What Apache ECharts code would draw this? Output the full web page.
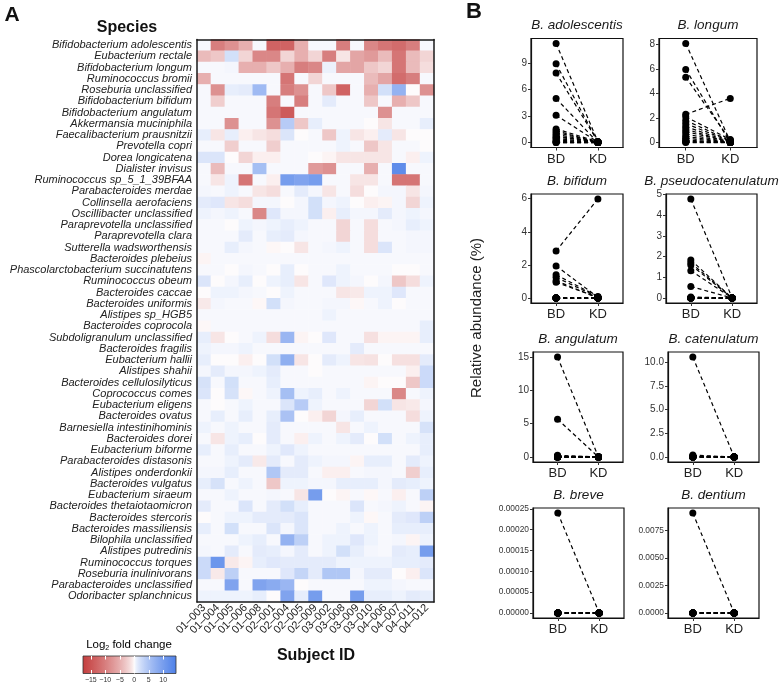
<!DOCTYPE html>
<html>
<head>
<meta charset="utf-8">
<script src="https://cdn.jsdelivr.net/npm/echarts@6/dist/echarts.min.js"></script>
<style>
html,body{margin:0;padding:0;background:#fff}
#main{width:780px;height:686px}
</style>
</head>
<body>
<div id="main"></div>
<script>
var species = [
  'Bifidobacterium adolescentis','Eubacterium rectale','Bifidobacterium longum','Ruminococcus bromii',
  'Roseburia unclassified','Bifidobacterium bifidum','Bifidobacterium angulatum','Akkermansia muciniphila',
  'Faecalibacterium prausnitzii','Prevotella copri','Dorea longicatena','Dialister invisus',
  'Ruminococcus sp_5_1_39BFAA','Parabacteroides merdae','Collinsella aerofaciens','Oscillibacter unclassified',
  'Paraprevotella unclassified','Paraprevotella clara','Sutterella wadsworthensis','Bacteroides plebeius',
  'Phascolarctobacterium succinatutens','Ruminococcus obeum','Bacteroides caccae','Bacteroides uniformis',
  'Alistipes sp_HGB5','Bacteroides coprocola','Subdoligranulum unclassified','Bacteroides fragilis',
  'Eubacterium hallii','Alistipes shahii','Bacteroides cellulosilyticus','Coprococcus comes',
  'Eubacterium eligens','Bacteroides ovatus','Barnesiella intestinihominis','Bacteroides dorei',
  'Eubacterium biforme','Parabacteroides distasonis','Alistipes onderdonkii','Bacteroides vulgatus',
  'Eubacterium siraeum','Bacteroides thetaiotaomicron','Bacteroides stercoris','Bacteroides massiliensis',
  'Bilophila unclassified','Alistipes putredinis','Ruminococcus torques','Roseburia inulinivorans',
  'Parabacteroides unclassified','Odoribacter splanchnicus'
];
var subjects = ['01–003','01–004','01–005','01–006','01–008','02–001','02–004','02–005','02–009',
  '03–002','03–008','03–009','03–010','04–006','04–007','04–011','04–012'];

// one row per species, one column per subject
var log2FC = [
  [0.2,-10,-8,-5,0.2,-13,-13,-5,0.2,0.2,-10,0.2,-9,-11,-12,-10,0.2],
  [-4,-3,2,-2,-9,-9,-2,-5,-2,-10,-1,-6,-7,-4,-11,-4,-2],
  [0.2,0.2,0.3,-5,-5,-3,-5,-10,-9,0.6,-6,-6,-3,-2,-11,-4,-1.5],
  [-5,0.2,0.2,0.2,0.2,0.2,-11,0.2,-2,0.2,0.2,0.2,-4,-6,-12,-10,0.2],
  [0.2,-8,0.8,1,6,0.2,-10,-8,0.2,-3,-13,0.2,-5,2,7,0,-8],
  [0.2,-2.5,0.2,0.2,0.2,-10,0.2,-10,0.2,1,0.2,0.2,-3,0.2,-5,-3,0.2],
  [0.2,0.2,0.2,0.2,0.2,-11,-14,0.2,0.2,0.2,0.2,0.2,0.2,-8,0.2,0.2,0.2],
  [0.2,0.2,-8,0.2,0.2,-8,4,-3,0.8,0.2,0.2,0.2,0,-1,0.2,0.2,0.8],
  [0.8,-1,0.8,-0.5,-1,-1.5,1.5,0,0.2,-3,0.5,-1,-0.5,1,-1,0,0],
  [0.2,0.2,-2.5,0.2,0.2,-2.5,0.2,0.2,0.2,0.2,0.5,0.2,-3,-1,0.2,0.2,0],
  [1.5,1.5,0,-2,-0.5,-0.5,0.2,0.2,0,-0.3,-1,-1,-1,-1,0.2,-0.5,0.5],
  [0.2,-4,0.2,0.2,5.5,0.2,0.2,0.2,-7,-8,0.2,0.2,-5,0.2,12.5,0.2,0.2],
  [0.2,-1,0.5,-11,0.2,-0.5,10,9,10,0.2,0.2,-1,-1,0.2,-11,-11,0.2],
  [0.3,0.2,0.5,0.2,-1,-1.5,0.2,1,0.3,-1,0.2,-1.5,0,0.3,0.3,-1,0.3],
  [1,1.3,-1,-1.5,0.3,0.3,0,0.3,2,0.3,0.5,0,-0.5,-0.3,0.3,-2,0.5],
  [0.5,0.3,0.5,0.2,-9,1.3,0.3,0.3,2,-0.5,0.8,0.3,0.3,1,0.3,0.5,0.3],
  [0.2,0.2,0,0.5,0.3,0.5,0.8,0.5,0.2,0.2,-2,0.2,-1.5,0.2,0.3,0.8,0.5],
  [0.2,0.2,0.2,1,0.2,0.8,1,0.3,0.2,0.2,-2,0.2,-1.5,0.2,0.2,0.3,0.3],
  [0.2,0.2,0.8,0.3,0.2,-0.2,0,-1,0.2,0.3,0.5,0.2,-1.5,1.5,0.2,0.3,0.3],
  [-0.3,0.2,0.2,0.2,0.2,0.2,0.2,0.2,0.2,0.2,0.2,0.2,0.2,0.2,0.2,0.2,0.2],
  [0.2,0.2,0,0.3,0.2,0,0.8,0,0.2,0.2,0.5,0.2,0.2,0.2,0,0,0.2],
  [1.5,0,0.3,0.8,0,0.5,0.8,-1,0.2,1.3,0.5,0.3,0,0.3,-3,-1.5,0.5],
  [0,0.5,0.5,0.3,0.2,0,0.5,0.2,0.2,0.2,-1,-0.8,0.5,0.5,1.3,0.2,0.2],
  [-0.8,0.3,0.2,0.2,-0.2,2,0.3,0.2,0.2,0.3,0.3,-0.2,0.2,0.5,0,0.2,0.2],
  [0.2,0.2,0.2,0.2,0.2,0.2,0.2,0.2,0.2,0.5,0.2,0.2,0.2,0.2,0.2,0.2,0.2],
  [-0.2,0.2,0.2,0.2,0.2,0.2,0.2,0.2,0.2,0.2,0.2,0.2,0.2,0.2,0.2,0.2,0.8],
  [0.8,-1,0,0.2,0.5,-1.5,6.5,-0.3,0,1.3,0.2,0.2,-1.3,-0.3,-0.3,-0.3,0.8],
  [0.5,0.3,0.3,0.5,0.2,0.2,0.2,0.2,0.2,0.2,0.2,1,0.2,0.2,0.2,0.2,0.2],
  [0.8,0,0,-0.5,0,2,7.5,-1,0,1,0.5,-1,-1.2,0,-1.3,-1.3,1],
  [0.3,1,0.3,0.3,0.5,1,0.2,0.2,0,0.2,0.2,0.2,0.2,0.2,0.2,-0.5,2.5],
  [1.8,0.2,2,0.2,0.2,0.8,0.2,0.2,0.2,0.2,0.2,0.2,-0.3,0,0,-3,2.5],
  [1.5,0,1.8,-0.2,0.2,0.5,5.5,0.5,0.8,0.2,0.5,0.2,0.2,0.2,-9,0.2,0.5],
  [0.2,0,0.2,0.5,0.2,0.2,1.5,4,0.5,0.2,0.2,0.2,-2,2,-1,-0.8,0.3],
  [0.2,0.8,0.2,0.8,0.2,0.8,5,0,-0.5,-2,0.3,0.8,0.2,0.2,0.2,-1.5,0.5],
  [0.5,0.2,0.5,0.2,0.2,1,0.2,0.2,0.2,0.2,-1,0.2,0.5,0.2,0.2,0.2,1.8],
  [0.2,-1,0.5,0.8,0,1,0.2,-0.5,0.5,0.2,0.5,1,0,2,0.2,0.5,0.8],
  [0.8,0.2,0.8,0.2,0.2,0.5,1.2,0.5,0.2,0.2,0.2,0.2,0.2,0.2,0.2,0.2,0.8],
  [0.2,0.2,0.5,1,-0.8,1,0.2,1,0.5,0.3,0.3,-0.3,0.8,0.8,0.2,1,0.5],
  [0.3,0.3,0.8,0.2,0.2,4.5,1,1,0.2,-0.5,-0.5,0.2,0.3,0.3,0.2,-2.5,0.8],
  [0.8,1.8,0.2,0.5,0.2,-3,0.5,0.5,0.3,0.3,0.8,0.8,0.8,0.3,1,0.8,0.5],
  [0.2,0.2,0.5,0.2,0.2,0.3,0.2,-1,10,0,-0.3,0.2,-0.2,0.2,-0.5,0.2,3.5],
  [1,0.2,0.2,1.5,0.2,1,2,0.8,0.2,0.2,0.2,1.5,0.2,0.3,0.5,0.2,-0.3],
  [0,0.2,0.5,0.5,1,1,1,1.5,0.2,0.2,0.2,0.5,-0.2,0.2,1,1.3,3.5],
  [0.8,0.2,2,0.2,0.2,1.5,0.3,1.5,0.2,0.2,0.5,0.2,0.5,0.2,0.8,0.8,0.8],
  [0.2,0.2,0.2,0.5,0.8,0.2,7,3.5,0.2,0.5,0.5,1.3,0.5,0.2,0.3,-0.3,0.5],
  [0.3,0.2,1,0.2,1,0.8,0.3,1,0.2,0.5,2,0.8,0.3,0.2,1,0.8,10],
  [2.5,11,-0.8,-0.3,0.8,1.2,1,1,1,1,0.5,0.5,0.5,0.5,0.8,0.8,1],
  [2.5,-0.8,3.5,0.2,0.2,0.2,1.3,3,1,4.5,4.5,0.3,1,1,0,-0.5,1.5],
  [0.2,0.2,9,0.2,9,8,6.5,0,0.2,0.2,0.2,0.2,0.5,0.5,0.3,0.2,0.2],
  [0.5,0.5,0.5,0.5,0.8,0,9,0.8,10,0.2,0.2,10,0.8,0.8,0.5,1,0.8]
];
var fcMin = -17.7, fcMax = 14.4;
var colorbarTicks = [-15, -10, -5, 0, 5, 10];

// relative abundance (%) per subject, baseline diet (BD) and ketogenic diet (KD)
var adolescentisBD = [11.26,8.95,7.9,5.0,3.1,1.55,1.35,1.15,0.95,0.75,0.6,0.45,0.3,0.15,0.05,0,0];
var adolescentisKD = [0.1,0.05,0.1,0,0.05,0.1,0,0.05,0,0,0.1,0,0,0,0,0,0];
var longumBD = [8.08,5.96,5.33,2.3,2.1,1.8,1.55,1.3,1.1,0.9,0.7,0.5,0.35,0.2,0.1,0.05,0];
var longumKD = [0.1,0,0.2,3.6,0.25,0.15,0.1,0.05,0,0.05,0,0,0,0,0,0,0];
var bifidumBD = [2.84,1.94,1.4,1.25,1.05,0.95,0,0,0,0,0,0,0,0,0,0,0];
var bifidumKD = [5.98,0.05,0.1,0.05,0,0.05,0,0,0,0,0,0,0,0,0,0,0];
var pseudocatenulatumBD = [4.78,1.84,1.7,1.6,1.32,0.56,0.05,0,0,0,0,0,0,0,0,0,0];
var pseudocatenulatumKD = [0,0,0,0,0,0,0,0,0,0,0,0,0,0,0,0,0];
var angulatumBD = [15.0,5.66,0.25,0.15,0.1,0,0,0,0,0,0,0,0,0,0,0,0];
var angulatumKD = [0,0,0,0,0,0,0,0,0,0,0,0,0,0,0,0,0];
var catenulatumBD = [10.57,0.2,0.1,0.05,0,0,0,0,0,0,0,0,0,0,0,0,0];
var catenulatumKD = [0,0,0,0,0,0,0,0,0,0,0,0,0,0,0,0,0];
var breveBD = [0.00024,0,0,0,0,0,0,0,0,0,0,0,0,0,0,0,0];
var breveKD = [0,0,0,0,0,0,0,0,0,0,0,0,0,0,0,0,0];
var dentiumBD = [0.00906,0,0,0,0,0,0,0,0,0,0,0,0,0,0,0,0];
var dentiumKD = [0,0,0,0,0,0,0,0,0,0,0,0,0,0,0,0,0];

var dietLabels = ['BD', 'KD'];
var adolescentisTicks = [0, 3, 6, 9];
var longumTicks = [0, 2, 4, 6, 8];
var bifidumTicks = [0, 2, 4, 6];
var pseudocatenulatumTicks = [0, 1, 2, 3, 4, 5];
var angulatumTicks = [0, 5, 10, 15];
var catenulatumTicks = [0, 2.5, 5, 7.5, 10];
var breveTicks = [0, 0.00005, 0.0001, 0.00015, 0.0002, 0.00025];
var dentiumTicks = [0, 0.0025, 0.005, 0.0075];

var panels = [
  {title: 'B. adolescentis', bd: adolescentisBD, kd: adolescentisKD, ticks: adolescentisTicks, dec: 0, box: [531, 38.5, 92, 109], fs: 10},
  {title: 'B. longum', bd: longumBD, kd: longumKD, ticks: longumTicks, dec: 0, box: [659, 38.5, 98, 109], fs: 10},
  {title: 'B. bifidum', bd: bifidumBD, kd: bifidumKD, ticks: bifidumTicks, dec: 0, box: [531, 194, 92, 109], fs: 10},
  {title: 'B. pseudocatenulatum', bd: pseudocatenulatumBD, kd: pseudocatenulatumKD, ticks: pseudocatenulatumTicks, dec: 0, box: [666, 194, 91, 109], fs: 10},
  {title: 'B. angulatum', bd: angulatumBD, kd: angulatumKD, ticks: angulatumTicks, dec: 0, box: [533, 352, 90, 110], fs: 10},
  {title: 'B. catenulatum', bd: catenulatumBD, kd: catenulatumKD, ticks: catenulatumTicks, dec: 1, box: [668, 352, 91, 110], fs: 10},
  {title: 'B. breve', bd: breveBD, kd: breveKD, ticks: breveTicks, dec: 5, box: [533, 508, 91, 110], fs: 8.4},
  {title: 'B. dentium', bd: dentiumBD, kd: dentiumKD, ticks: dentiumTicks, dec: 4, box: [668, 508, 91, 110], fs: 8.4}
];

var FONT = '"Liberation Sans", Arial, Helvetica, sans-serif';
var LOW = [196, 62, 62], MID = [255, 255, 255], HIGH = [78, 128, 232];
function mix(a, b, t) {
  t = Math.pow(t, 0.7);
  return 'rgb(' + a.map(function (c, i) { return Math.round(c + (b[i] - c) * t); }).join(',') + ')';
}
function fcColor(v) {
  return v < 0 ? mix(MID, LOW, v / fcMin) : mix(MID, HIGH, v / fcMax);
}
// color stops so that white sits exactly at 0
var nStops = 81, stopColors = [], gradStops = [];
for (var s = 0; s < nStops; s++) {
  var v = fcMin + (fcMax - fcMin) * s / (nStops - 1);
  stopColors.push(fcColor(v));
  gradStops.push({offset: s / (nStops - 1), color: fcColor(v)});
}

var heatData = [];
log2FC.forEach(function (row, i) {
  row.forEach(function (v, j) { heatData.push([j, i, v]); });
});

var grids = [], xAxes = [], yAxes = [], series = [], texts = [];

// heatmap
grids.push({left: 197, top: 39.5, width: 237, height: 562.5});
xAxes.push({gridIndex: 0, type: 'category', data: subjects, position: 'bottom', z: 10,
  axisLine: {lineStyle: {color: '#1a1a1a', width: 1.5}},
  axisTick: {alignWithLabel: true, length: 3, lineStyle: {color: '#333'}},
  axisLabel: {rotate: 45, fontSize: 11, color: '#222', margin: 4, fontFamily: FONT, interval: 0},
  splitLine: {show: false}});
xAxes.push({gridIndex: 0, type: 'category', data: subjects, position: 'top', z: 10,
  axisLine: {lineStyle: {color: '#1a1a1a', width: 1.5}}, axisTick: {show: false}, axisLabel: {show: false}});
yAxes.push({gridIndex: 0, type: 'category', data: species, inverse: true, z: 10,
  axisLine: {lineStyle: {color: '#1a1a1a', width: 1.5}},
  axisTick: {alignWithLabel: true, length: 3, lineStyle: {color: '#333'}},
  axisLabel: {fontSize: 11, fontStyle: 'italic', color: '#222', margin: 5, fontFamily: FONT, interval: 0},
  splitLine: {show: false}});
yAxes.push({gridIndex: 0, type: 'category', data: species, inverse: true, position: 'right', z: 10,
  axisLine: {lineStyle: {color: '#1a1a1a', width: 1.5}}, axisTick: {show: false}, axisLabel: {show: false}});
series.push({type: 'heatmap', xAxisIndex: 0, yAxisIndex: 0, data: heatData,
  itemStyle: {borderWidth: 0}, emphasis: {disabled: true}, silent: true});

// colour bar
grids.push({left: 83, top: 656, width: 93, height: 17.5});
xAxes.push({gridIndex: 1, type: 'value', min: fcMin, max: fcMax, position: 'bottom', z: 10,
  axisLine: {show: false}, splitLine: {show: false},
  axisTick: {inside: true, length: 3.5, customValues: colorbarTicks, lineStyle: {color: '#fff', width: 1}},
  axisLabel: {customValues: colorbarTicks, fontSize: 7, color: '#333', margin: 3, fontFamily: FONT,
    formatter: function (v) { return String(v).replace('-', '\u2212'); }}});
xAxes.push({gridIndex: 1, type: 'value', min: fcMin, max: fcMax, position: 'top', z: 10,
  axisLine: {show: false}, splitLine: {show: false}, axisLabel: {show: false},
  axisTick: {inside: true, length: 3.5, customValues: colorbarTicks, lineStyle: {color: '#fff', width: 1}}});
yAxes.push({gridIndex: 1, type: 'value', min: 0, max: 1, show: false});
series.push({type: 'custom', xAxisIndex: 2, yAxisIndex: 2, data: [[fcMin, fcMax]], silent: true,
  encode: {x: [0, 1]},
  renderItem: function (params, api) {
    var p0 = api.coord([api.value(0), 0]);
    var p1 = api.coord([api.value(1), 1]);
    return {type: 'rect', shape: {x: p0[0], y: p1[1], width: p1[0] - p0[0], height: p0[1] - p1[1]},
      style: {fill: new echarts.graphic.LinearGradient(0, 0, 1, 0, gradStops), stroke: '#333', lineWidth: 0.8}};
  }});

// paired panels
panels.forEach(function (p, k) {
  var g = grids.length;
  var all = p.bd.concat(p.kd);
  var lo = Math.min.apply(null, all), hi = Math.max.apply(null, all);
  var pad = (hi - lo) * 0.05;
  grids.push({left: p.box[0], top: p.box[1], width: p.box[2], height: p.box[3],
    show: true, borderColor: '#111', borderWidth: 1.2, backgroundColor: 'transparent'});
  xAxes.push({gridIndex: g, type: 'value', min: 0.4, max: 2.6, splitLine: {show: false},
    axisLine: {onZero: false, lineStyle: {color: '#111', width: 1.2}},
    axisTick: {customValues: [1, 2], length: 3, lineStyle: {color: '#333'}},
    axisLabel: {customValues: [1, 2], fontSize: 13, color: '#222', margin: 5, fontFamily: FONT,
      formatter: function (v) { return dietLabels[Math.round(v) - 1]; }}});
  yAxes.push({gridIndex: g, type: 'value', min: lo - pad, max: hi + pad, splitLine: {show: false},
    axisLine: {onZero: false, lineStyle: {color: '#111', width: 1.2}},
    axisTick: {customValues: p.ticks, length: 3, lineStyle: {color: '#333'}},
    axisLabel: {customValues: p.ticks, fontSize: p.fs, color: '#333', margin: 4, fontFamily: FONT,
      formatter: function (v) { return v.toFixed(p.dec); }}});
  p.bd.forEach(function (b, i) {
    series.push({type: 'line', xAxisIndex: xAxes.length - 1, yAxisIndex: yAxes.length - 1,
      data: [[1, b], [2, p.kd[i]]], clip: false, silent: true, z: 3,
      symbol: 'circle', symbolSize: 7, itemStyle: {color: '#000'},
      lineStyle: {color: '#000', width: 1.2, type: [4, 3]}});
  });
  texts.push({type: 'text', x: p.box[0] + p.box[2] / 2, y: p.box[1] - 13,
    style: {text: p.title, font: 'italic 13.5px ' + FONT, fill: '#1a1a1a', align: 'center', verticalAlign: 'middle'}});
});

texts.push({type: 'text', x: 12, y: 15, style: {text: 'A', font: 'bold 21px ' + FONT, fill: '#111', align: 'center', verticalAlign: 'middle'}});
texts.push({type: 'text', x: 474, y: 12, style: {text: 'B', font: 'bold 22px ' + FONT, fill: '#111', align: 'center', verticalAlign: 'middle'}});
texts.push({type: 'text', x: 127, y: 28, style: {text: 'Species', font: 'bold 16px ' + FONT, fill: '#111', align: 'center', verticalAlign: 'middle'}});
texts.push({type: 'text', x: 316, y: 656, style: {text: 'Subject ID', font: 'bold 16px ' + FONT, fill: '#111', align: 'center', verticalAlign: 'middle'}});
texts.push({type: 'text', x: 129, y: 645, style: {
  text: '{a|Log}{s|2}{a| fold change}', align: 'center', verticalAlign: 'middle',
  rich: {a: {fontSize: 11.5, fontFamily: FONT, color: '#222'},
         s: {fontSize: 7, fontFamily: FONT, color: '#222', padding: [6, 0, 0, 0]}}}});
texts.push({type: 'text', x: 477, y: 318, rotation: Math.PI / 2, style: {
  text: 'Relative abundance (%)', font: '15px ' + FONT, fill: '#222', align: 'center', verticalAlign: 'middle'}});

var chart = echarts.init(document.getElementById('main'), null, {renderer: 'canvas'});
chart.setOption({
  animation: false,
  backgroundColor: '#fff',
  textStyle: {fontFamily: FONT},
  grid: grids,
  xAxis: xAxes,
  yAxis: yAxes,
  visualMap: {type: 'continuous', show: false, min: fcMin, max: fcMax, seriesIndex: 0, dimension: 2,
    inRange: {color: stopColors}},
  graphic: texts,
  series: series
});
</script>
</body>
</html>
